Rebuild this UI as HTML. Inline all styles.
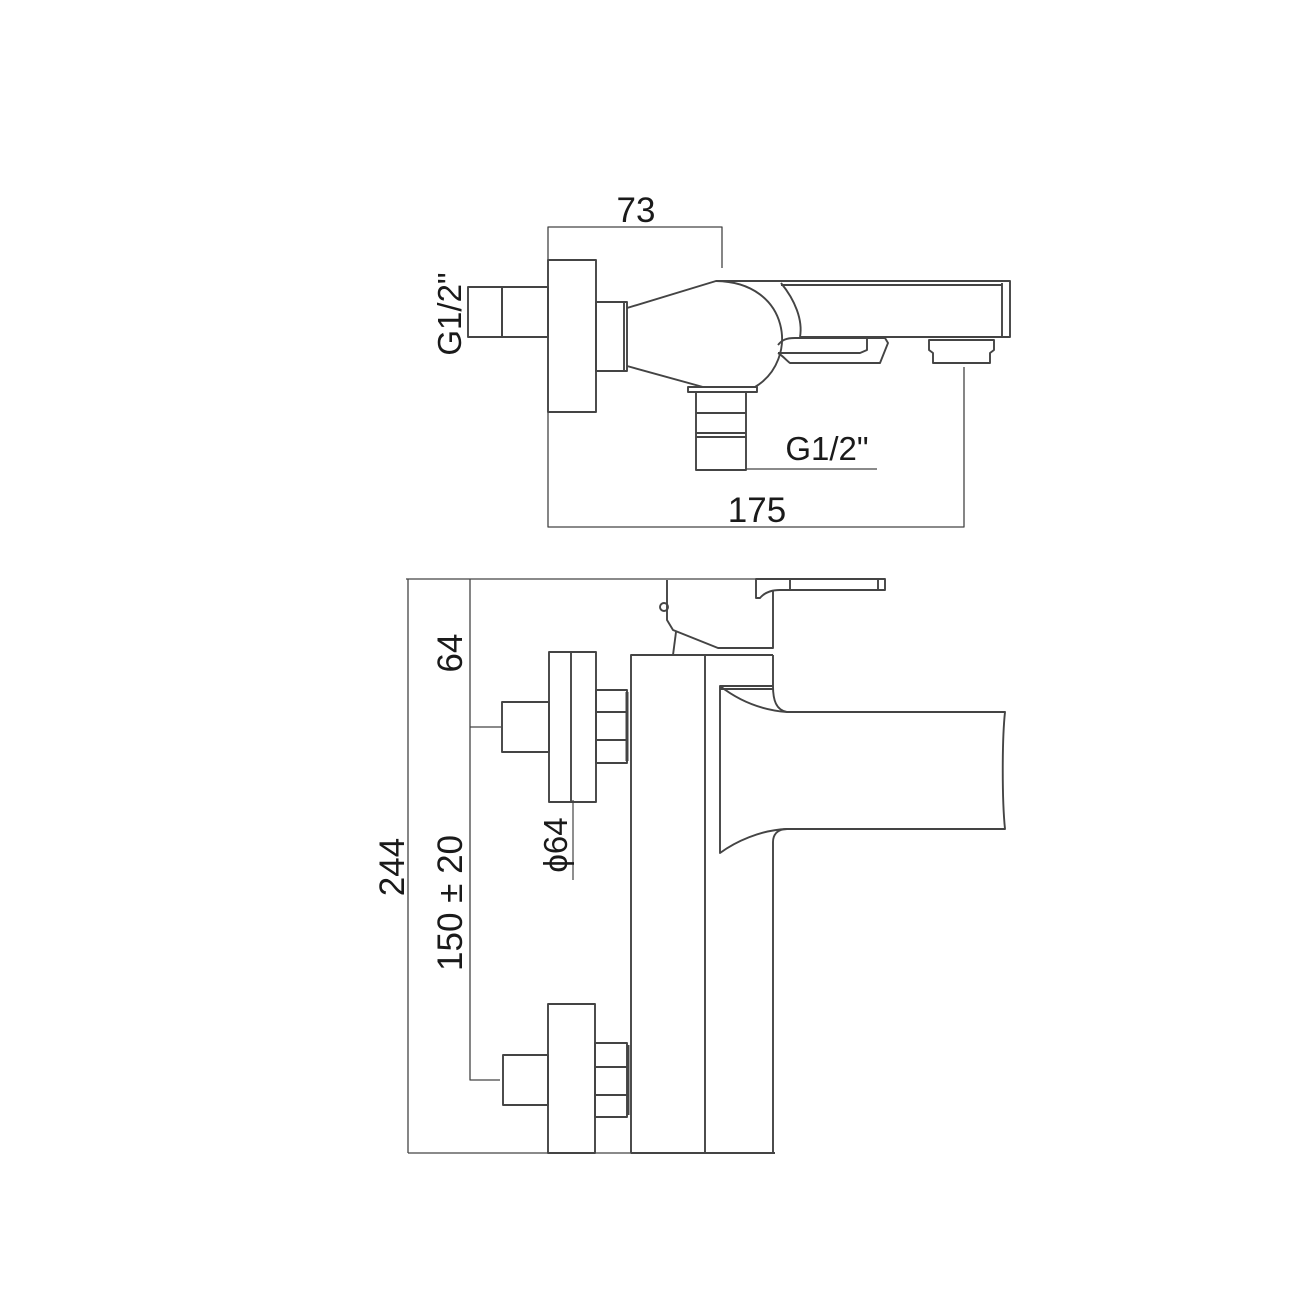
<!DOCTYPE html>
<html><head><meta charset="utf-8"><style>
html,body{margin:0;padding:0;background:#fff;}
svg{display:block;}
text{font-family:"Liberation Sans",sans-serif;fill:#1a1a1a;}
</style></head><body>
<svg width="1300" height="1300" viewBox="0 0 1300 1300" xmlns="http://www.w3.org/2000/svg">
<g fill="none" stroke="#444" stroke-width="1.9" stroke-linejoin="round">
<!-- TOP VIEW -->
<polyline points="548,260 548,227 722,227 722,268" stroke-width="1.3"/>
<polyline points="548,412 548,527 964,527 964,367" stroke-width="1.3"/>
<rect x="468" y="287" width="34" height="50"/>
<rect x="502" y="287" width="46" height="50"/>
<rect x="548" y="260" width="48" height="152"/>
<rect x="596" y="302" width="31" height="69"/>
<line x1="624" y1="303" x2="624" y2="370"/>
<path d="M627,308 L716,281 L1010,281 L1010,337 L800,337"/>
<line x1="781" y1="285" x2="1002" y2="285"/>
<line x1="1002" y1="283" x2="1002" y2="337"/>
<path d="M781,283 C795,300 803,320 800,337"/>
<path d="M716,281 C790,282 800,360 755,387 L703,387 L627,366"/>
<rect x="688" y="387" width="69" height="5"/>
<path d="M778,345 C782,340 786,338 795,338 L867,338 L867,350 L860,353 L778,353"/>
<path d="M795,338 L885,338 L888,343 L880,363 L790,363 C786,360 783,356 778,353"/>
<path d="M929,340 L994,340 L994,350 L990,353 L990,363 L933,363 L933,353 L929,350 Z"/>
<rect x="696" y="392" width="50" height="78"/>
<line x1="696" y1="413" x2="746" y2="413"/>
<line x1="696" y1="433" x2="746" y2="433"/>
<line x1="696" y1="437" x2="746" y2="437"/>
<line x1="746" y1="469" x2="877" y2="469" stroke-width="1.2"/>

<!-- SIDE VIEW -->
<line x1="406" y1="579" x2="756" y2="579" stroke-width="1.3"/>
<line x1="408" y1="579" x2="408" y2="1153" stroke-width="1.3"/>
<line x1="408" y1="1153" x2="630" y2="1153" stroke-width="1.3"/>
<polyline points="470,579 470,1080 500,1080" stroke-width="1.3"/>
<line x1="470" y1="727" x2="501" y2="727" stroke-width="1.3"/>
<line x1="573" y1="800" x2="573" y2="880" stroke-width="1.2"/>
<rect x="502" y="702" width="47" height="50"/>
<rect x="549" y="652" width="47" height="150"/>
<line x1="571" y1="652" x2="571" y2="802"/>
<rect x="596" y="690" width="31" height="73"/>
<line x1="596" y1="712" x2="627" y2="712"/>
<line x1="596" y1="740" x2="627" y2="740"/>
<line x1="627" y1="692" x2="627" y2="761" stroke-width="3"/>
<rect x="503" y="1055" width="45" height="50"/>
<rect x="548" y="1004" width="47" height="149"/>
<rect x="595" y="1043" width="32" height="74"/>
<line x1="595" y1="1067" x2="627" y2="1067"/>
<line x1="595" y1="1095" x2="627" y2="1095"/>
<line x1="628" y1="1045" x2="628" y2="1115" stroke-width="3"/>
<path d="M631,1153 L631,655 L705,655 L705,1153 Z"/>
<line x1="705" y1="655" x2="773" y2="655"/>
<line x1="705" y1="1153" x2="775" y2="1153"/>
<path d="M773,655 L773,686 C773,700 776,710 787,712"/>
<path d="M773,1153 L773,842 C773,835 777,829 787,829"/>
<path d="M773,686 L720,686 L720,853 C735,842 760,830 787,829 L1005,829 C1002,800 1002,740 1005,712 L787,712 C760,710 738,700 720,686"/>
<line x1="720" y1="689" x2="773" y2="689"/>
<path d="M667,580 L667,620 L673,630 L718,648 L773,648 L773,590"/>
<circle cx="664" cy="607" r="4"/>
<line x1="676" y1="632" x2="673" y2="655"/>
<path d="M756,579 L885,579 L885,590 L780,590 C772,590 765,592 760,598 L756,598 Z"/>
<line x1="790" y1="580" x2="790" y2="590"/>
<line x1="878" y1="580" x2="878" y2="590"/>
</g>
<text x="636" y="222" font-size="35" text-anchor="middle">73</text>
<text x="757" y="522" font-size="35" text-anchor="middle">175</text>
<text x="827" y="460" font-size="33" text-anchor="middle">G1/2"</text>
<text transform="translate(461,314) rotate(-90)" font-size="33" text-anchor="middle">G1/2"</text>
<text transform="translate(462,653) rotate(-90)" font-size="35" text-anchor="middle">64</text>
<text transform="translate(404,867) rotate(-90)" font-size="35" text-anchor="middle">244</text>
<text transform="translate(462,903) rotate(-90)" font-size="35" text-anchor="middle">150 ± 20</text>
<text transform="translate(567,845) rotate(-90)" font-size="33" text-anchor="middle">ϕ64</text>
</svg>
</body></html>
